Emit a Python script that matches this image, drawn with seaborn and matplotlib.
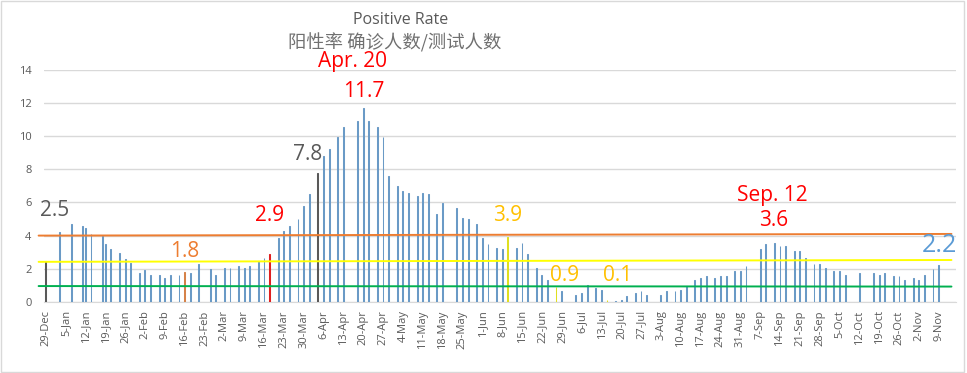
import pandas as pd
import numpy as np
import matplotlib
matplotlib.use('Agg')
import matplotlib.pyplot as plt
import seaborn as sns
from matplotlib.patches import Rectangle

# ---- data ----
start = '2020-12-29'
dates = [
    '2020-12-29', '2021-01-03', '2021-01-07', '2021-01-11', '2021-01-12', '2021-01-14', '2021-01-18',
    '2021-01-19', '2021-01-21', '2021-01-24', '2021-01-26', '2021-01-28', '2021-01-31', '2021-02-02',
    '2021-02-04', '2021-02-07', '2021-02-09', '2021-02-11', '2021-02-14', '2021-02-16', '2021-02-18',
    '2021-02-21', '2021-02-25', '2021-02-27', '2021-03-02', '2021-03-04', '2021-03-07', '2021-03-09',
    '2021-03-11', '2021-03-14', '2021-03-16', '2021-03-18', '2021-03-21', '2021-03-23', '2021-03-25',
    '2021-03-28', '2021-03-30', '2021-04-01', '2021-04-04', '2021-04-06', '2021-04-08', '2021-04-11',
    '2021-04-13', '2021-04-18', '2021-04-20', '2021-04-22', '2021-04-25', '2021-04-27', '2021-04-29',
    '2021-05-02', '2021-05-04', '2021-05-06', '2021-05-09', '2021-05-11', '2021-05-13', '2021-05-16',
    '2021-05-18', '2021-05-23', '2021-05-25', '2021-05-27', '2021-05-30', '2021-06-01', '2021-06-03',
    '2021-06-06', '2021-06-08', '2021-06-10', '2021-06-13', '2021-06-15', '2021-06-17', '2021-06-20',
    '2021-06-22', '2021-06-24', '2021-06-27', '2021-06-29', '2021-07-04', '2021-07-06', '2021-07-08',
    '2021-07-11', '2021-07-13', '2021-07-15', '2021-07-18', '2021-07-20', '2021-07-22', '2021-07-25',
    '2021-07-27', '2021-07-29', '2021-08-03', '2021-08-05', '2021-08-08', '2021-08-10', '2021-08-12',
    '2021-08-15', '2021-08-17', '2021-08-19', '2021-08-22', '2021-08-24', '2021-08-26', '2021-08-29',
    '2021-08-31', '2021-09-02', '2021-09-07', '2021-09-09', '2021-09-12', '2021-09-14', '2021-09-16',
    '2021-09-19', '2021-09-21', '2021-09-23', '2021-09-26', '2021-09-28', '2021-09-30', '2021-10-03',
    '2021-10-05', '2021-10-07', '2021-10-12', '2021-10-17', '2021-10-19', '2021-10-21', '2021-10-24',
    '2021-10-26', '2021-10-28', '2021-10-31', '2021-11-02', '2021-11-04', '2021-11-07', '2021-11-09',
]
rates = [
    2.5, 4.2, 4.7, 4.6, 4.45, 4.1, 3.95,
    3.5, 3.2, 2.95, 2.6, 2.35, 1.75, 1.9,
    1.6, 1.6, 1.45, 1.6, 1.6, 1.8, 1.75,
    2.3, 2.0, 1.65, 2.05, 2.05, 2.15, 2.05,
    2.15, 2.45, 2.65, 2.9, 3.85, 4.3, 4.6,
    5.0, 5.8, 6.5, 7.8, 8.8, 9.2, 9.95,
    10.55, 10.9, 11.7, 10.9, 10.55, 9.95, 7.6,
    7.0, 6.7, 6.55, 6.4, 6.55, 6.5, 5.3,
    5.95, 5.65, 5.05, 5.0, 4.7, 3.85, 3.5,
    3.25, 3.2, 3.9, 3.25, 3.55, 2.9, 2.05,
    1.65, 1.3, 0.9, 0.65, 0.4, 0.55, 1.0,
    0.85, 0.7, 0.1, 0.05, 0.12, 0.35, 0.55,
    0.65, 0.4, 0.4, 0.65, 0.65, 0.72, 0.95,
    1.35, 1.45, 1.55, 1.45, 1.55, 1.55, 1.85,
    1.85, 2.15, 3.2, 3.5, 3.55, 3.35, 3.35,
    3.05, 3.05, 2.65, 2.3, 2.3, 2.05, 1.85,
    1.85, 1.65, 1.75, 1.75, 1.65, 1.75, 1.55,
    1.55, 1.35, 1.45, 1.35, 1.65, 2.0, 2.2,
]
# bars drawn in a special colour
highlight_dates = ['2020-12-29', '2021-02-16', '2021-03-18', '2021-04-04',
                   '2021-06-10', '2021-06-27', '2021-07-15']
highlight_kinds = ['gray', 'orange', 'red', 'gray', 'yellow', 'yellow', 'yellow']

# annotations: text, date, y, colour, size
notes_text = ['2.5', '1.8', '2.9', '7.8', 'Apr. 20', '11.7', '3.9', '0.9', '0.1', 'Sep. 12', '3.6', '2.2']
notes_day = [3.2, 49, 79, 92.4, 108.3, 112.2, 163, 182.9, 201.8, 256.4, 256.8, 315.3]
notes_y = [5.54, 3.04, 5.21, 8.86, 14.46, 12.7, 5.21, 1.57, 1.57, 6.39, 4.9, 3.4]
notes_color = ['#595959', '#ED7D31', '#FF0000', '#595959', '#FF0000', '#FF0000',
               '#FFC000', '#FFC000', '#FFC000', '#FF0000', '#FF0000', '#5B9BD5']
notes_size = [15, 15, 15, 15, 15, 15, 15, 15, 15, 15, 15, 18]

# reference lines: level at left end / right end
ref_left = [4.0, 2.42, 0.96]
ref_right = [4.1, 2.53, 0.93]
ref_colors = ['#ED7D31', '#FFFF00', '#00B050']

palette = {'blue': '#5B9BD5', 'gray': '#595959', 'orange': '#ED7D31',
           'red': '#FF0000', 'yellow': '#FFFF00'}

# ---- prep ----
df = pd.DataFrame({'date': pd.to_datetime(dates), 'rate': rates})
t0 = pd.Timestamp(start)
df['day'] = (df['date'] - t0).dt.days
kind_map = dict(zip(pd.to_datetime(highlight_dates), highlight_kinds))
df['kind'] = df['date'].map(kind_map).fillna('blue')

sns.set_style('white')
plt.rcParams['font.family'] = ['Open Sans', 'Noto Sans CJK SC', 'DejaVu Sans']

fig = plt.figure(figsize=(9.67, 3.73), dpi=100)
ax = fig.add_axes([44 / 967, 71 / 373, 912 / 967, 232.4 / 373])

sns.barplot(data=df, x='day', y='rate', hue='kind', palette=palette, native_scale=True,
            dodge=False, width=0.3, errorbar=None, legend=False, ax=ax, zorder=3)
# thin bars: outline them in their own colour so each one stays visible
for p in ax.patches:
    p.set_edgecolor(p.get_facecolor())
    p.set_linewidth(0.75)

# reference lines
xl, xr = -2.5, 319.5
for lv, rv, c in zip(ref_left, ref_right, ref_colors):
    ax.plot([xl, xr], [lv, rv], color=c, lw=1.4, clip_on=False, zorder=4)

# axes styling
ax.set_xlim(-0.6, 321.1)
ax.set_ylim(0, 14)
ax.set_yticks(range(0, 15, 2))
ax.grid(axis='y', color='#D9D9D9', lw=1, zorder=0)
ax.set_axisbelow(True)
for s in ['top', 'right', 'left']:
    ax.spines[s].set_visible(False)
ax.spines['bottom'].set_color('#D9D9D9')

tick_dates = pd.date_range(t0, '2021-11-09', freq='7D')
ax.set_xticks([(d - t0).days for d in tick_dates])
ax.set_xticklabels([f"{d.day}-{d.strftime('%b')}" for d in tick_dates], rotation=90)
ax.tick_params(axis='x', colors='#595959', labelsize=8, length=4, width=1, color='#D9D9D9', pad=2)
ax.tick_params(axis='y', colors='#595959', labelsize=8, length=0, pad=9)
ax.set_xlabel('')
ax.set_ylabel('')

for t, d, y, c, s in zip(notes_text, notes_day, notes_y, notes_color, notes_size):
    ax.text(d, y, t, color=c, fontsize=s, ha='center', va='center', zorder=5, clip_on=False)

fig.text(401 / 967, 1 - 20 / 373, 'Positive Rate', ha='center', va='center', fontsize=11.5, color='#595959')
fig.text(395 / 967, 1 - 43 / 373, '阳性率 确诊人数/测试人数', ha='center', va='center', fontsize=13.2,
         color='#707070', family=['Noto Sans CJK SC', 'DejaVu Sans'])

fig.patches.append(Rectangle((0.001, 0.002), 0.996, 0.995, transform=fig.transFigure,
                             fill=False, edgecolor='#D9D9D9', lw=1))

fig.savefig('out.png', dpi=100)
